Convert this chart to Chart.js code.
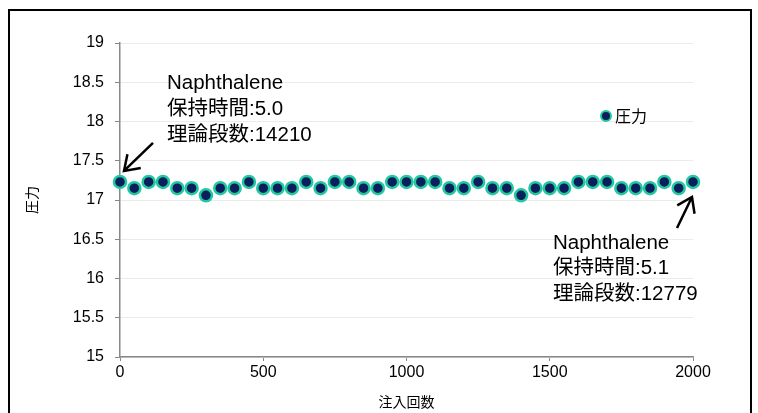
<!DOCTYPE html>
<html>
<head>
<meta charset="utf-8">
<script src="https://cdn.jsdelivr.net/npm/chart.js@4/dist/chart.umd.min.js"></script>
<style>
  body { margin: 0; background: #fff; }
  #wrap { width: 758px; height: 413px; position: relative; }
</style>
</head>
<body>
<div id="wrap"><canvas id="pressureChart"></canvas></div>
<script>
// injection count (x) and pressure (y)
var injections = [0, 50, 100, 150, 200, 250, 300, 350, 400, 450, 500, 550, 600, 650, 700, 750, 800, 850, 900, 950,
                  1000, 1050, 1100, 1150, 1200, 1250, 1300, 1350, 1400, 1450, 1500, 1550, 1600, 1650, 1700, 1750,
                  1800, 1850, 1900, 1950, 2000];
var pressure = [17.23, 17.15, 17.23, 17.23, 17.15, 17.15, 17.06, 17.15, 17.15, 17.23, 17.15, 17.15, 17.15, 17.23,
                17.15, 17.23, 17.23, 17.15, 17.15, 17.23, 17.23, 17.23, 17.23, 17.15, 17.15, 17.23, 17.15, 17.15,
                17.06, 17.15, 17.15, 17.15, 17.23, 17.23, 17.23, 17.15, 17.15, 17.15, 17.23, 17.15, 17.23];
var seriesName = "圧力";
var xTitle = "注入回数";
var yTitle = "圧力";
var noteStart = ["Naphthalene", "保持時間:5.0", "理論段数:14210"];
var noteEnd = ["Naphthalene", "保持時間:5.1", "理論段数:12779"];

var FILL = "#0A1F5C";
var EDGE = "#22C9A0";
var FONT = "'Liberation Sans', 'Noto Sans CJK JP', sans-serif";
var CJK = "'Noto Sans CJK JP', sans-serif";

function arrow(ctx, x1, y1, x2, y2) {
    var a = Math.atan2(y2 - y1, x2 - x1);
    var h = 17;
    ctx.beginPath();
    ctx.moveTo(x1, y1);
    ctx.lineTo(x2, y2);
    ctx.moveTo(x2 - h * Math.cos(a - 0.6), y2 - h * Math.sin(a - 0.6));
    ctx.lineTo(x2, y2);
    ctx.lineTo(x2 - h * Math.cos(a + 0.6), y2 - h * Math.sin(a + 0.6));
    ctx.stroke();
}

var extras = {
    id: "extras",
    afterDraw: function (chart) {
        var ctx = chart.ctx;
        var xs = chart.scales.x, ys = chart.scales.y;
        ctx.save();
        // outer frame
        ctx.strokeStyle = "#000";
        ctx.lineWidth = 2;
        ctx.strokeRect(9, 10, 742, 420);

        // legend
        ctx.beginPath();
        ctx.arc(606, 116, 5, 0, Math.PI * 2);
        ctx.fillStyle = FILL;
        ctx.fill();
        ctx.lineWidth = 2;
        ctx.strokeStyle = EDGE;
        ctx.stroke();
        ctx.fillStyle = "#000";
        ctx.font = "16px " + CJK;
        ctx.textBaseline = "middle";
        ctx.fillText(seriesName, 615, 116);

        // notes
        ctx.font = "20.5px " + FONT;
        noteStart.forEach(function (t, i) { ctx.fillText(t, 167, 83 + i * 26); });
        noteEnd.forEach(function (t, i) { ctx.fillText(t, 553, 243 + i * 25.5); });

        // arrows pointing to first and last point
        var n = injections.length - 1;
        var fx = xs.getPixelForValue(injections[0]), fy = ys.getPixelForValue(pressure[0]);
        var lx = xs.getPixelForValue(injections[n]), ly = ys.getPixelForValue(pressure[n]);
        ctx.strokeStyle = "#000";
        ctx.lineWidth = 2.5;
        arrow(ctx, fx + 33, fy - 39, fx + 4, fy - 11);
        arrow(ctx, lx - 16, ly + 46, lx - 1, ly + 15);
        ctx.restore();
    }
};

new Chart(document.getElementById("pressureChart").getContext("2d"), {
    type: "scatter",
    data: {
        datasets: [{
            label: seriesName,
            data: injections.map(function (x, i) { return { x: x, y: pressure[i] }; }),
            backgroundColor: FILL,
            borderColor: EDGE,
            borderWidth: 2.5,
            pointRadius: 6,
            pointHoverRadius: 6,
            clip: false
        }]
    },
    options: {
        responsive: true,
        maintainAspectRatio: false,
        animation: false,
        layout: { padding: { left: 0, right: 65, top: 43, bottom: 0 } },
        plugins: { legend: { display: false }, tooltip: { enabled: false } },
        scales: {
            x: {
                type: "linear",
                min: 0, max: 2000,
                ticks: { stepSize: 500, color: "#000", font: { size: 16, family: FONT }, padding: 2,
                         callback: function (v) { return String(v); } },
                grid: { drawOnChartArea: false, tickColor: "#888", tickLength: 4 },
                border: { color: "#888", width: 1.5 },
                title: { display: true, text: xTitle, color: "#000", font: { size: 14, family: CJK }, padding: { top: 0, bottom: 3 } },
                afterFit: function (s) { s.height = 56; }
            },
            y: {
                min: 15, max: 19,
                ticks: { stepSize: 0.5, color: "#000", font: { size: 16, family: FONT }, padding: 11,
                         callback: function (v) { return String(v); } },
                grid: { color: "#EBEBEB", tickColor: "#888", tickLength: 5 },
                border: { color: "#888", width: 1.5 },
                title: { display: true, text: yTitle, color: "#000", font: { size: 14, family: CJK }, padding: { top: 23, bottom: 0 } },
                afterFit: function (s) { s.width = 120; }
            }
        }
    },
    plugins: [extras]
});
</script>
</body>
</html>
